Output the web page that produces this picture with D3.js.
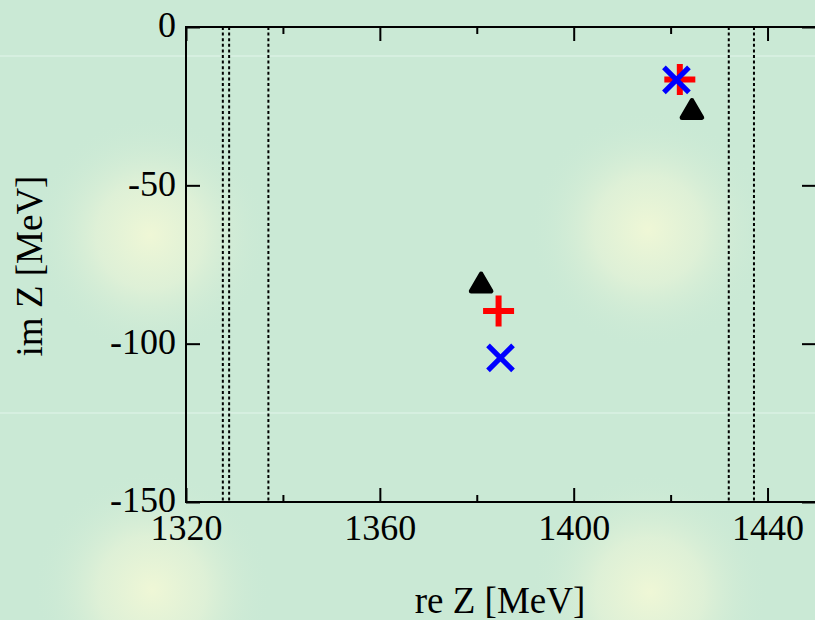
<!DOCTYPE html>
<html>
<head>
<meta charset="utf-8">
<script src="https://cdn.jsdelivr.net/npm/d3@7"></script>
<style>
  html, body { margin: 0; padding: 0; background: #cae9d5; }
  svg { display: block; }
  text { font-family: "Liberation Serif", "Times New Roman", serif; fill: #000; }
</style>
</head>
<body>
<svg id="chart" width="815" height="620"></svg>
<script>
// Pole positions in the complex energy plane (MeV)
const triangleRe = [1380.9, 1424.4];
const triangleIm = [-81.6, -26.8];
const plusRe = [1384.5, 1421.9];
const plusIm = [-89.7, -16.6];
const crossRe = [1384.9, 1421.2];
const crossIm = [-104.5, -16.7];

// Two-body thresholds: pi0 Sigma0, pi- Sigma+, pi+ Sigma-, K- p, K0bar n
const thresholds = [1327.6, 1328.9, 1337.0, 1432.0, 1437.2];

// Axis ticks
const xMajorTicks = [1320, 1360, 1400, 1440];
const xMinorTicks = [1340, 1380, 1420];
const yMajorTicks = [0, -50, -100, -150];

const xDomain = [1320, 1450];
const yDomain = [-150, 0];

const W = 815, H = 620;
const margin = { left: 186, top: 27, right: -1, bottom: 118 };
const iw = W - margin.left - margin.right;
const ih = H - margin.top - margin.bottom;

const svg = d3.select("#chart");

// Soft background with pale yellow glows
const defs = svg.append("defs");
const grad = defs.append("radialGradient").attr("id", "glow");
grad.append("stop").attr("offset", "0%").attr("stop-color", "#eff7d6").attr("stop-opacity", 1);
grad.append("stop").attr("offset", "45%").attr("stop-color", "#e3f2d7").attr("stop-opacity", 0.8);
grad.append("stop").attr("offset", "100%").attr("stop-color", "#cae9d5").attr("stop-opacity", 0);

svg.append("rect").attr("width", W).attr("height", H).attr("fill", "#cae9d5");
const glowCenters = [[150, 235], [648, 230], [152, 590], [650, 592]];
svg.append("g").selectAll("circle").data(glowCenters).join("circle")
  .attr("cx", d => d[0]).attr("cy", d => d[1]).attr("r", 120)
  .attr("fill", "url(#glow)");
svg.append("g").selectAll("rect").data([55, 412]).join("rect")
  .attr("x", 0).attr("y", d => d).attr("width", W).attr("height", 2)
  .attr("fill", "#d6efe0");

const x = d3.scaleLinear().domain(xDomain).range([0, iw]);
const y = d3.scaleLinear().domain(yDomain).range([ih, 0]);

const g = svg.append("g").attr("transform", `translate(${margin.left},${margin.top})`);

// Threshold lines
g.append("g").selectAll("line").data(thresholds).join("line")
  .attr("x1", d => x(d)).attr("x2", d => x(d))
  .attr("y1", 0).attr("y2", ih)
  .attr("stroke", "#000").attr("stroke-width", 2)
  .attr("stroke-dasharray", "3,2.6");

// Frame
g.append("rect").attr("x", 0).attr("y", 0).attr("width", iw).attr("height", ih)
  .attr("fill", "none").attr("stroke", "#000").attr("stroke-width", 2);

const fmt = d => String(d);
function styleAxis(sel) {
  sel.attr("font-family", null).attr("font-size", null);
  sel.select(".domain").remove();
  sel.selectAll(".tick line").attr("stroke", "#000").attr("stroke-width", 2);
  sel.selectAll(".tick text").style("font-size", "36px")
    .style("font-family", "'Liberation Serif', 'Times New Roman', serif").attr("fill", "#000");
}

// Bottom axis with labels, ticks pointing inward
g.append("g").attr("transform", `translate(0,${ih})`)
  .call(d3.axisBottom(x).tickValues(xMajorTicks).tickFormat(fmt).tickSizeInner(-14).tickSizeOuter(0).tickPadding(12))
  .call(styleAxis);
g.append("g").attr("transform", `translate(0,${ih})`)
  .call(d3.axisBottom(x).tickValues(xMinorTicks).tickFormat("").tickSizeInner(-7).tickSizeOuter(0))
  .call(styleAxis);
// Top mirror ticks
g.append("g")
  .call(d3.axisTop(x).tickValues(xMajorTicks).tickFormat("").tickSizeInner(-14).tickSizeOuter(0))
  .call(styleAxis);
g.append("g")
  .call(d3.axisTop(x).tickValues(xMinorTicks).tickFormat("").tickSizeInner(-7).tickSizeOuter(0))
  .call(styleAxis);

// Left axis with labels
const yAx = g.append("g")
  .call(d3.axisLeft(y).tickValues(yMajorTicks).tickFormat(fmt).tickSizeInner(-14).tickSizeOuter(0).tickPadding(10))
  .call(styleAxis);
yAx.selectAll(".tick text").attr("dy", "0.27em");
// Right mirror ticks
g.append("g").attr("transform", `translate(${iw},0)`)
  .call(d3.axisRight(y).tickValues(yMajorTicks).tickFormat("").tickSizeInner(-14).tickSizeOuter(0))
  .call(styleAxis);

// Axis titles
svg.append("text").attr("x", 500).attr("y", 613).attr("text-anchor", "middle")
  .style("font-size", "37px").text("re Z [MeV]");
svg.append("text").attr("transform", "translate(42,266) rotate(-90)").attr("text-anchor", "middle")
  .style("font-size", "37px").text("im Z [MeV]");

// Marker shapes
const plusType = {
  draw(ctx, size) {
    const r = Math.sqrt(size) / 2;
    ctx.moveTo(-r, 0); ctx.lineTo(r, 0);
    ctx.moveTo(0, -r); ctx.lineTo(0, r);
  }
};
const xType = {
  draw(ctx, size) {
    const r = Math.sqrt(size) / 2;
    ctx.moveTo(-r, -r); ctx.lineTo(r, r);
    ctx.moveTo(-r, r); ctx.lineTo(r, -r);
  }
};

const tri = d3.zip(triangleRe, triangleIm);
const plus = d3.zip(plusRe, plusIm);
const cross = d3.zip(crossRe, crossIm);

g.append("g").selectAll("path").data(tri).join("path")
  .attr("transform", d => `translate(${x(d[0])},${y(d[1])})`)
  .attr("d", d3.symbol().type(d3.symbolTriangle).size(175))
  .attr("fill", "#000").attr("stroke", "#000").attr("stroke-width", 4.5)
  .attr("stroke-linejoin", "round");

g.append("g").selectAll("path").data(plus).join("path")
  .attr("transform", d => `translate(${x(d[0])},${y(d[1])})`)
  .attr("d", d3.symbol().type(plusType).size(31 * 31))
  .attr("fill", "none").attr("stroke", "#ff0000").attr("stroke-width", 6);

g.append("g").selectAll("path").data(cross).join("path")
  .attr("transform", d => `translate(${x(d[0])},${y(d[1])})`)
  .attr("d", d3.symbol().type(xType).size(25 * 25))
  .attr("fill", "none").attr("stroke", "#0000ff").attr("stroke-width", 5.2);
</script>
</body>
</html>
